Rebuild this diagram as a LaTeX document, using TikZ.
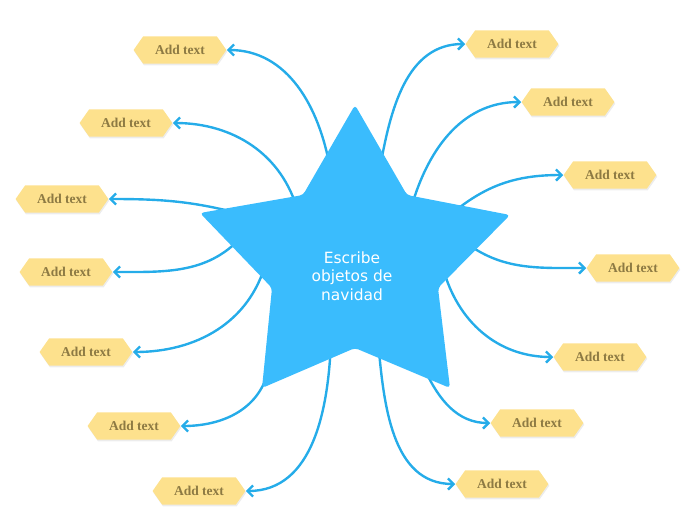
\documentclass[tikz,border=0pt]{standalone}
\usepackage{fontspec}
\newfontfamily\notefont{Liberation Serif}
\newfontfamily\starfont{DejaVu Sans}
\usetikzlibrary{arrows.meta,shapes.symbols,shadows}
\definecolor{starblue}{HTML}{3ABCFD}
\definecolor{linkblue}{HTML}{25ACE9}
\definecolor{notefill}{HTML}{FDE18D}
\definecolor{notetext}{HTML}{8D7A43}

\begin{document}
\begin{tikzpicture}[x=0.025cm,y=0.025cm,
    hx/.style={shape=signal,signal to=west and east,signal pointer angle=110,
               fill=notefill,minimum width=2.32cm,minimum height=0.68cm,inner sep=0pt,
               font=\notefont\bfseries\fontsize{9.6}{11}\selectfont,text=notetext,
               drop shadow={shadow xshift=0.6pt,shadow yshift=-1.2pt,opacity=0.15}},
    ar/.style={draw=linkblue,line width=1.7pt,-{Straight Barb[length=4pt,width=8pt]}}]
  \useasboundingbox (0,0) rectangle (696,-520);
  % left notes
  \foreach \n/\x/\y in {1/180/50,2/126/123,3/62/199,4/66/272,5/86/352,6/134/426,7/199/491}
    \node[hx] (l\n) at (\x,-\y) {Add text};
  % right notes
  \foreach \n/\x/\y in {1/512/44,2/568/102,3/610/175,4/633/268,5/600/357,6/537/423,7/502/484}
    \node[hx] (r\n) at (\x,-\y) {Add text};
  % links, starting under the star
  \foreach \n/\x/\y/\o in {1/330/168/100,2/298/212/105,3/245/215/165,4/245/233/230,
                           5/266/262/255,6/268/372/255,7/331/340/268}{
    \coordinate (sl\n) at (\x,-\y);
    \draw[ar] (sl\n) to[out=\o,in=0] (l\n.east);}
  \foreach \n/\x/\y/\o in {1/380/168/80,2/410/212/75,3/450/215/40,4/460/238/-40,
                           5/443/268/-75,6/425/370/-65,7/378/340/-85}{
    \coordinate (sr\n) at (\x,-\y);
    \draw[ar] (sr\n) to[out=\o,in=180] (r\n.west);}
  % star
  \fill[starblue,rounded corners=2.5pt] (355,-105) -- (407,-195) -- (510,-215) -- (438,-288)
    -- (450,-388) -- (355,-348) -- (262,-388) -- (272,-288) -- (200,-213) -- (303,-195) -- cycle;
  \node[font=\starfont\fontsize{11}{13.2}\selectfont,text=white,align=center] (title)
    at (352,-276) {Escribe\\objetos de\\navidad};
\end{tikzpicture}
\end{document}
